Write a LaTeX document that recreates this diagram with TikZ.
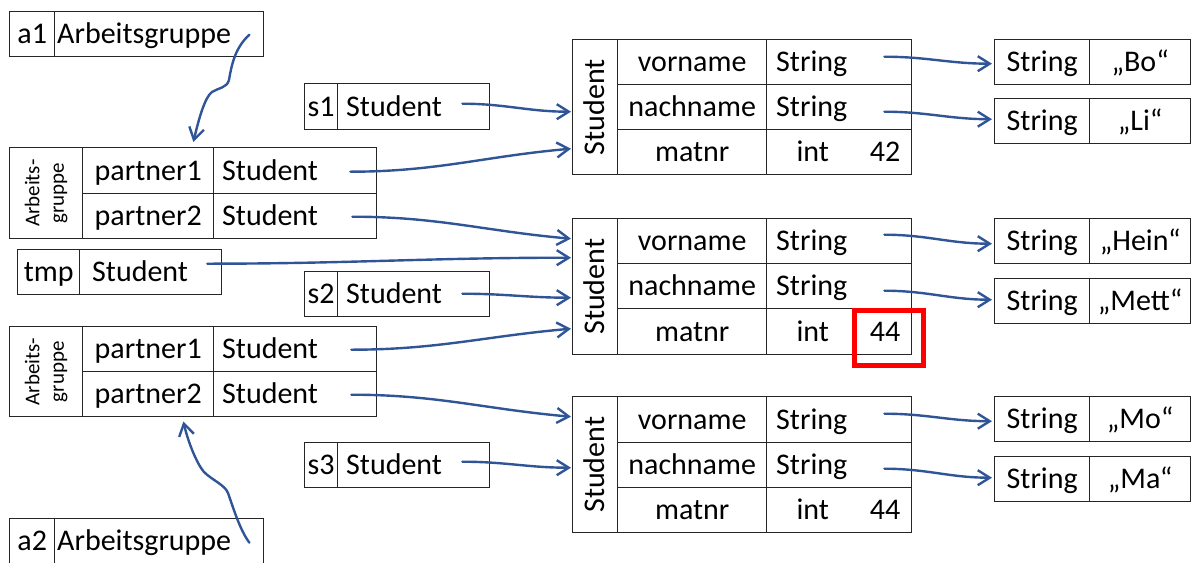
\documentclass[tikz,border=0pt]{standalone}
\usepackage{fontspec}
\setmainfont{Carlito}
\usetikzlibrary{arrows.meta,calc}
\definecolor{ptrblue}{HTML}{2F5597}
\newcommand\fsbig{\fontsize{30}{36}\selectfont}
\newcommand\fssmall{\fontsize{21}{24.5}\selectfont}
\newcommand\mkcell[7][]{\node[box,minimum width=#5pt,minimum height=#6pt,#1] (#2) at (#3,#4) {#7};}
\tikzset{
 box/.style={draw=black!85, line width=1.4pt, inner sep=0pt, anchor=north west, font=\fsbig, text height=19pt, text depth=0pt},
 txt/.style={inner sep=0pt, font=\fsbig, text height=19pt, text depth=0pt},
 ltxt/.style={txt, anchor=west},
 rotlbl/.style={rotate=90, inner sep=0pt, font=\fsbig, text height=19pt, text depth=0pt},
 rotsmall/.style={rotate=90, inner sep=0pt, font=\fssmall, align=center},
 ptr/.style={draw=ptrblue, line width=2.4pt, line cap=round, -{Straight Barb[length=12pt,width=15pt]}},
 highlight/.style={draw=red, line width=5pt, inner sep=0pt},
}
\begin{document}
\begin{tikzpicture}[x=1pt,y=-1pt]
\useasboundingbox (0,0) rectangle (1193,562);
% a1
\mkcell{a1n}{9}{11}{45}{45}{a1}
\mkcell{a1t}{54}{11}{209}{45}{}
\node[ltxt] (a1tt) at ($(a1t.west)+(3,0)$) {Arbeitsgruppe};
% Arbeitsgruppe 1
\mkcell{g1l}{9}{147}{73}{91}{}
\node[rotsmall] (g1lt) at (g1l.center) {Arbeits-\\gruppe};
\mkcell{g1p1}{82}{147}{131}{46}{partner1}
\mkcell{g1t1}{213}{147}{163}{46}{}
\node[ltxt] (g1t1t) at ($(g1t1.west)+(9,0)$) {Student};
\mkcell{g1p2}{82}{193}{131}{45}{partner2}
\mkcell{g1t2}{213}{193}{163}{45}{}
\node[ltxt] (g1t2t) at ($(g1t2.west)+(9,0)$) {Student};
% tmp
\mkcell{tmpn}{17}{249}{62}{45}{tmp}
\mkcell{tmpt}{79}{249}{142}{45}{}
\node[ltxt] (tmptt) at ($(tmpt.west)+(13,0)$) {Student};
% Arbeitsgruppe 2
\mkcell{g2l}{9}{326}{73}{90}{}
\node[rotsmall] (g2lt) at (g2l.center) {Arbeits-\\gruppe};
\mkcell{g2p1}{82}{326}{131}{45}{partner1}
\mkcell{g2t1}{213}{326}{163}{45}{}
\node[ltxt] (g2t1t) at ($(g2t1.west)+(9,0)$) {Student};
\mkcell{g2p2}{82}{371}{131}{45}{partner2}
\mkcell{g2t2}{213}{371}{163}{45}{}
\node[ltxt] (g2t2t) at ($(g2t2.west)+(9,0)$) {Student};
% a2
\mkcell{a2n}{9}{518}{45}{45}{a2}
\mkcell{a2t}{54}{518}{209}{45}{}
\node[ltxt] (a2tt) at ($(a2t.west)+(3,0)$) {Arbeitsgruppe};
% s1 s2 s3
\mkcell{s1n}{304}{83}{33}{46}{s1}
\mkcell{s1t}{337}{83}{152}{46}{}
\node[ltxt] (s1tt) at ($(s1t.west)+(9,0)$) {Student};
\mkcell{s2n}{304}{271}{33}{45}{s2}
\mkcell{s2t}{337}{271}{152}{45}{}
\node[ltxt] (s2tt) at ($(s2t.west)+(9,0)$) {Student};
\mkcell{s3n}{304}{442}{33}{45}{s3}
\mkcell{s3t}{337}{442}{152}{45}{}
\node[ltxt] (s3tt) at ($(s3t.west)+(9,0)$) {Student};
% Student objects
\mkcell{stl1}{572}{39}{45}{135}{}
\node[rotlbl] (stl1t) at (stl1.center) {Student};
\mkcell{vn1}{617}{39}{149}{45}{vorname}
\mkcell{vt1}{766}{39}{145}{45}{}
\node[ltxt] (vt1t) at ($(vt1.west)+(10,0)$) {String};
\mkcell{nn1}{617}{84}{149}{45}{nachname}
\mkcell{nt1}{766}{84}{145}{45}{}
\node[ltxt] (nt1t) at ($(nt1.west)+(10,0)$) {String};
\mkcell{mn1}{617}{129}{149}{45}{matnr}
\mkcell{it1}{766}{129}{145}{45}{}
\node[txt] (it1a) at ($(it1.center)+(-26.5,0)$) {int};
\node[txt,anchor=east] (it1b) at ($(it1.east)+(-12,0)$) {42};
%
\mkcell{stl2}{572}{218}{45}{136}{}
\node[rotlbl] (stl2t) at (stl2.center) {Student};
\mkcell{vn2}{617}{218}{149}{45}{vorname}
\mkcell{vt2}{766}{218}{145}{45}{}
\node[ltxt] (vt2t) at ($(vt2.west)+(10,0)$) {String};
\mkcell{nn2}{617}{263}{149}{45}{nachname}
\mkcell{nt2}{766}{263}{145}{45}{}
\node[ltxt] (nt2t) at ($(nt2.west)+(10,0)$) {String};
\mkcell{mn2}{617}{308}{149}{46}{matnr}
\mkcell{it2}{766}{308}{145}{46}{}
\node[txt] (it2a) at ($(it2.center)+(-26.5,0)$) {int};
\node[txt,anchor=east] (it2b) at ($(it2.east)+(-12,0)$) {44};
%
\mkcell{stl3}{572}{396}{45}{136}{}
\node[rotlbl] (stl3t) at (stl3.center) {Student};
\mkcell{vn3}{617}{396}{149}{46}{vorname}
\mkcell{vt3}{766}{396}{145}{46}{}
\node[ltxt] (vt3t) at ($(vt3.west)+(10,0)$) {String};
\mkcell{nn3}{617}{442}{149}{45}{nachname}
\mkcell{nt3}{766}{442}{145}{45}{}
\node[ltxt] (nt3t) at ($(nt3.west)+(10,0)$) {String};
\mkcell{mn3}{617}{487}{149}{45}{matnr}
\mkcell{it3}{766}{487}{145}{45}{}
\node[txt] (it3a) at ($(it3.center)+(-26.5,0)$) {int};
\node[txt,anchor=east] (it3b) at ($(it3.east)+(-12,0)$) {44};
% String objects
\mkcell{sb1}{994}{39}{95}{45}{String}
\mkcell{sv1}{1089}{39}{101}{45}{„Bo“}
\mkcell{sb2}{994}{98}{95}{45}{String}
\mkcell{sv2}{1089}{98}{101}{45}{„Li“}
\mkcell{sb3}{994}{218}{95}{45}{String}
\mkcell{sv3}{1089}{218}{101}{45}{„Hein“}
\mkcell{sb4}{994}{278}{95}{45}{String}
\mkcell{sv4}{1089}{278}{101}{45}{„Mett“}
\mkcell{sb5}{994}{396}{95}{45}{String}
\mkcell{sv5}{1089}{396}{101}{45}{„Mo“}
\mkcell{sb6}{994}{456}{95}{45}{String}
\mkcell{sv6}{1089}{456}{101}{45}{„Ma“}
% highlight
\node[highlight, minimum width=69pt, minimum height=55pt] (hl) at (889,338) {};
% pointers
\draw[ptr] ($(a1t.east)+(-15,0.5)$) .. controls (236,47) and (232,62) .. (229,80)
  .. controls (227,88) and (218,88) .. (212,92)
  .. controls (205,97) and (199,118) .. ($(g1p1.north east)+(-21,-5)$);
\draw[ptr] ($(a2t.east)+(-15,1.5)$) .. controls (240,530) and (234,510) .. (228,493)
  .. controls (225,485) and (212,480) .. (204,472)
  .. controls (197,464) and (188,442) .. ($(g2p2.south east)+(-31,4)$);
\draw[ptr] ($(s1t.east)+(-28,-3)$) to[out=0,in=180] ($(stl1.west)+(-1,4.5)$);
\draw[ptr] ($(g1t1.east)+(-27,1)$) to[out=0,in=185] ($(stl1.west)+(-1,41.5)$);
\draw[ptr] ($(g1t2.east)+(-25,0.5)$) to[out=0,in=175] ($(stl2.west)+(-1,-48)$);
\draw[ptr] ($(tmpt.east)+(-15,-8.5)$) to[out=0,in=180] ($(stl2.west)+(-1,-29)$);
\draw[ptr] ($(s2t.east)+(-28,-0.5)$) to[out=0,in=180] ($(stl2.west)+(-1,11)$);
\draw[ptr] ($(g2t1.east)+(-26,0.5)$) to[out=0,in=185] ($(stl2.west)+(-1,42)$);
\draw[ptr] ($(g2t2.east)+(-26,0.5)$) to[out=0,in=175] ($(stl3.west)+(-1,-48)$);
\draw[ptr] ($(s3t.east)+(-28,-3.5)$) to[out=0,in=180] ($(stl3.west)+(-1,3)$);
\draw[ptr] ($(vt1.east)+(-28,-5.5)$) to[out=0,in=180] ($(sb1.west)+(-2,1.5)$);
\draw[ptr] ($(nt1.east)+(-28,4.5)$) to[out=0,in=180] ($(sb2.west)+(-2,-2)$);
\draw[ptr] ($(vt2.east)+(-28,-6.5)$) to[out=0,in=180] ($(sb3.west)+(-2,2.5)$);
\draw[ptr] ($(nt2.east)+(-28,4.5)$) to[out=0,in=180] ($(sb4.west)+(-2,-1.5)$);
\draw[ptr] ($(vt3.east)+(-28,-6)$) to[out=0,in=180] ($(sb5.west)+(-2,2)$);
\draw[ptr] ($(nt3.east)+(-28,3.5)$) to[out=0,in=180] ($(sb6.west)+(-2,-1.5)$);
\end{tikzpicture}
\end{document}
